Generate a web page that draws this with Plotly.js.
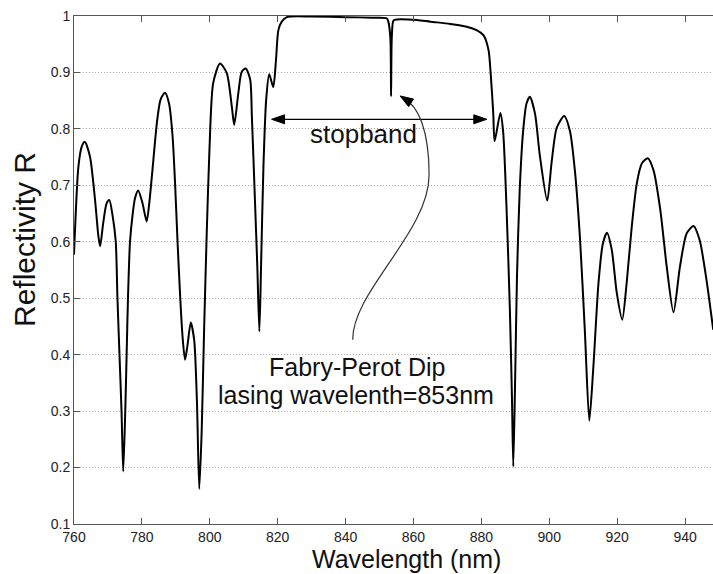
<!DOCTYPE html>
<html>
<head>
<meta charset="utf-8">
<script src="https://cdn.plot.ly/plotly-3.0.1.min.js"></script>
<style>
html,body{margin:0;padding:0;overflow:hidden;background:#fff;}
#chart{width:730px;height:574px;}
</style>
</head>
<body>
<div id="chart"></div>
<script>
// Wavelength (nm) and reflectivity
var wavelength = [
760.0,761.3,762.3,763.2,764.7,766.2,767.2,767.7,768.6,769.6,770.4,771.4,772.3,772.8,773.4,774.0,774.5,775.1,775.5,775.9,
776.5,777.3,778.0,778.9,780.2,781.4,782.2,783.0,784.5,785.5,786.8,788.0,789.0,789.8,790.5,791.3,792.0,792.7,793.4,794.4,
795.4,796.2,796.9,797.6,798.3,799.1,799.9,801.0,803.0,805.0,806.5,807.2,808.4,809.4,810.6,811.9,812.4,813.3,814.0,814.6,
815.1,815.8,816.6,817.5,818.7,819.5,820.2,821.2,822.7,830.0,840.0,848.0,852.1,852.6,853.2,853.4,853.6,854.1,855.1,861.0,
865.0,870.8,875.7,878.6,880.6,882.1,882.8,883.5,883.9,885.6,886.4,887.4,888.4,889.0,889.4,889.95,890.5,891.3,892.3,893.3,
894.3,895.8,897.2,899.4,900.7,902.2,904.4,906.1,907.6,909.1,910.5,911.8,913.0,914.5,915.8,917.0,918.4,919.9,921.5,922.8,
924.3,925.8,927.3,929.0,930.7,932.7,934.6,936.6,938.5,940.5,942.5,944.3,946.3,948.3
];
var reflectivity = [
0.577,0.733,0.769,0.777,0.751,0.674,0.609,0.592,0.633,0.668,0.674,0.645,0.600,0.500,0.400,0.300,0.193,0.300,0.400,0.500,
0.600,0.650,0.678,0.691,0.668,0.636,0.670,0.720,0.815,0.852,0.864,0.845,0.790,0.700,0.600,0.500,0.430,0.391,0.415,0.457,
0.426,0.320,0.162,0.262,0.438,0.615,0.763,0.881,0.916,0.899,0.839,0.807,0.863,0.901,0.907,0.887,0.822,0.674,0.556,0.441,
0.556,0.733,0.851,0.897,0.874,0.922,0.975,0.990,0.998,0.999,0.998,0.997,0.996,0.990,0.960,0.858,0.960,0.992,0.994,0.993,
0.990,0.986,0.981,0.975,0.966,0.940,0.893,0.828,0.778,0.828,0.796,0.662,0.479,0.327,0.202,0.357,0.540,0.693,0.796,0.845,
0.857,0.827,0.754,0.673,0.741,0.802,0.823,0.796,0.723,0.601,0.440,0.283,0.379,0.527,0.597,0.616,0.586,0.509,0.462,0.527,
0.627,0.704,0.739,0.748,0.727,0.657,0.556,0.475,0.556,0.615,0.628,0.603,0.533,0.444
];
var xTicks = [760,780,800,820,840,860,880,900,920,940];
var yTicks = [0.1,0.2,0.3,0.4,0.5,0.6,0.7,0.8,0.9,1];
var yTickText = ["0.1","0.2","0.3","0.4","0.5","0.6","0.7","0.8","0.9","1"];

var FONT = "Arial, 'Liberation Sans', Helvetica, sans-serif";

var trace = {
  x: wavelength, y: reflectivity, type: 'scatter', mode: 'lines',
  line: {color: '#000', width: 2, shape: 'spline', smoothing: 0.7},
  hoverinfo: 'skip'
};

var axisLine = '#555';
var layout = {
  width: 730, height: 574,
  margin: {l: 74, r: 11, t: 16, b: 50, pad: 0},
  paper_bgcolor: '#fff', plot_bgcolor: '#fff',
  showlegend: false,
  font: {family: FONT, color: '#222'},
  xaxis: {
    range: [760, 950], tickvals: xTicks, ticktext: xTicks.map(String),
    ticks: 'inside', ticklen: 6, tickcolor: axisLine, tickwidth: 1,
    showline: true, linecolor: axisLine, linewidth: 1, mirror: 'ticks',
    showgrid: false, zeroline: false,
    tickfont: {family: FONT, size: 14, color: '#222'}
  },
  yaxis: {
    range: [0.1, 1], tickvals: yTicks, ticktext: yTickText,
    ticks: 'inside', ticklen: 6, tickcolor: axisLine, tickwidth: 1,
    showline: true, linecolor: axisLine, linewidth: 1, mirror: 'ticks',
    showgrid: true, gridcolor: '#a8a8a8', gridwidth: 1, griddash: '1px,2px',
    zeroline: false,
    tickfont: {family: FONT, size: 14, color: '#222'}
  },
  shapes: [
    // stopband double arrow shaft
    {type: 'line', xref: 'x', yref: 'y', x0: 820, x1: 880, y0: 0.817, y1: 0.817,
     line: {color: '#000', width: 1.3}},
    // arrow heads (pixel-sized triangles anchored at tips)
    {type: 'path', xref: 'x', yref: 'y', xsizemode: 'pixel', ysizemode: 'pixel',
     xanchor: 818.2, yanchor: 0.817, path: 'M0,0 L13,4.5 L13,-4.5 Z',
     fillcolor: '#000', line: {color: '#000', width: 1}},
    {type: 'path', xref: 'x', yref: 'y', xsizemode: 'pixel', ysizemode: 'pixel',
     xanchor: 881.6, yanchor: 0.817, path: 'M0,0 L-13,4.5 L-13,-4.5 Z',
     fillcolor: '#000', line: {color: '#000', width: 1}},
    // curved pointer to Fabry-Perot dip
    {type: 'path', xref: 'x', yref: 'y',
     path: 'M842.11,0.4263 C841.91,0.5113 864.60,0.6176 864.60,0.7185 C864.60,0.7946 861.65,0.8407 856.94,0.8548',
     line: {color: '#333', width: 1.2}},
    {type: 'path', xref: 'x', yref: 'y', xsizemode: 'pixel', ysizemode: 'pixel',
     xanchor: 856.05, yanchor: 0.8584, path: 'M0,0 L13.4,-3.1 L8.6,-10.7 Z',
     fillcolor: '#000', line: {color: '#000', width: 1}}
  ],
  annotations: [
    {text: 'stopband', xref: 'x', yref: 'y', x: 845.15, y: 0.791, showarrow: false,
     xanchor: 'center', yanchor: 'middle', font: {family: FONT, size: 26, color: '#111'}},
    {text: 'Fabry-Perot Dip', xref: 'x', yref: 'y', x: 843.5, y: 0.379, showarrow: false,
     xanchor: 'center', yanchor: 'middle', font: {family: FONT, size: 25, color: '#111'}},
    {text: 'lasing wavelenth=853nm', xref: 'x', yref: 'y', x: 843.0, y: 0.329, showarrow: false,
     xanchor: 'center', yanchor: 'middle', font: {family: FONT, size: 25, color: '#111'}},
    {text: 'Wavelength (nm)', xref: 'paper', yref: 'paper', x: 0.5155, y: 0, yshift: -50,
     showarrow: false, xanchor: 'center', yanchor: 'bottom', borderpad: 0,
     font: {family: FONT, size: 25, color: '#111'}},
    {text: 'Reflectivity R', xref: 'paper', yref: 'paper', x: 0, y: 0.559, xshift: -50,
     textangle: -90, showarrow: false, xanchor: 'center', yanchor: 'middle',
     font: {family: FONT, size: 30, color: '#111'}}
  ]
};

Plotly.newPlot('chart', [trace], layout, {displayModeBar: false, staticPlot: true});
</script>
</body>
</html>
